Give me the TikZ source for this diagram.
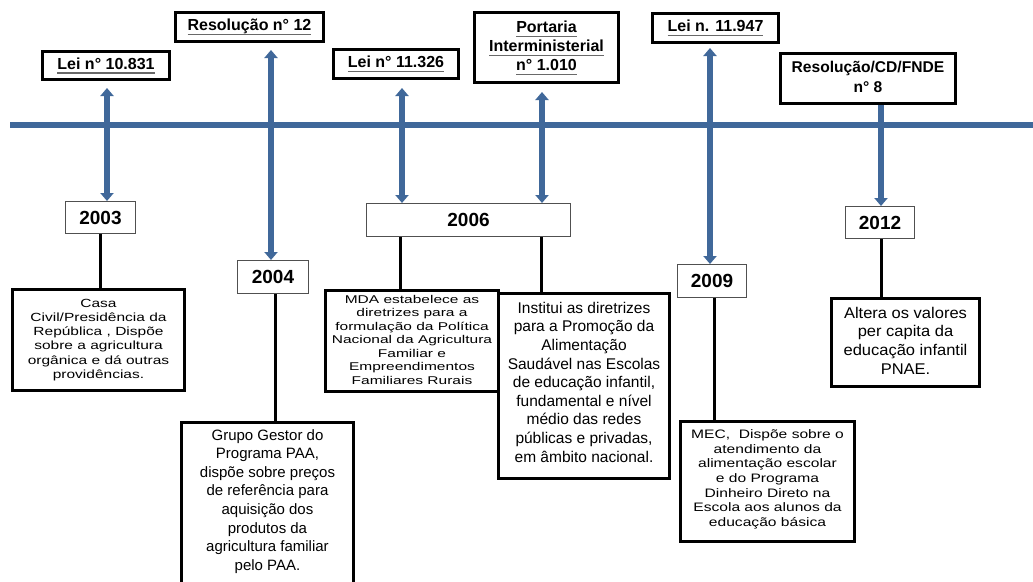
\documentclass[tikz,border=0pt]{standalone}
\usepackage{fontspec}
\setmainfont{Liberation Sans}
\usepackage{graphicx}
\usetikzlibrary{arrows.meta,calc}

\definecolor{tlblue}{RGB}{64,104,154}
\definecolor{ulgray}{RGB}{105,105,105}
\definecolor{yrgray}{RGB}{80,80,80}

% gray underline, set a little below the baseline
\newcommand{\undl}[1]{\leavevmode\setbox0=\hbox{#1}\rlap{\textcolor{ulgray}{\rule[-4.5pt]{\wd0}{1.2pt}}}\box0}
% centred block of lines: size, skip, vertical scale, raise, lines
\newcommand{\desc}[5]{\raisebox{#4}[\height][\depth]{\scalebox{1}[#3]{\fontsize{#1}{#2}\selectfont\begin{tabular}{@{}c@{}}#5\end{tabular}}}}

\tikzset{
  lawbox/.style={draw=black, line width=3pt, fill=white, inner sep=0pt, align=center,
                 font=\bfseries\fontsize{16}{19}\selectfont},
  yearbox/.style={draw=yrgray, line width=1.2pt, fill=white, inner sep=0pt,
                  font=\bfseries\fontsize{19}{22}\selectfont},
  descbox/.style={draw=black, line width=3pt, fill=white, inner sep=0pt},
  axisline/.style={tlblue, line width=6pt},
  tlarrow/.style={tlblue, line width=5.5pt, >={Triangle[width=13pt,length=8pt]}},
  stem/.style={black, line width=3pt},
}

\begin{document}
\begin{tikzpicture}[x=1pt,y=-1pt]
\useasboundingbox (0,0) rectangle (1033,581);
\fill[white] (0,0) rectangle (1033,581);

% time axis
\draw[axisline] (10,125) -- (1033,125);

% legal acts above the axis
\node[lawbox, minimum width=127pt, minimum height=28pt] (lei1) at (106,65.5) {\undl{Lei n° 10.831}};
\node[lawbox, minimum width=148pt, minimum height=29pt] (res12) at (249.5,27) {\undl{Resolução n° 12}};
\node[lawbox, minimum width=125pt, minimum height=29pt] (lei2) at (396,64) {\undl{Lei n° 11.326}};
\node[lawbox, minimum width=144pt, minimum height=70pt] (port) at (546.5,47.5)
  {\begin{tabular}{@{}c@{}}\undl{Portaria}\\\undl{Interministerial}\\\undl{n° 1.010}\end{tabular}};
\node[lawbox, minimum width=126pt, minimum height=29pt] (lei3) at (715.5,28) {\undl{Lei n. 11.947}};
\node[lawbox, minimum width=175pt, minimum height=50pt, font=\bfseries\fontsize{15.6}{19.5}\selectfont] (fnde) at (868,78.5)
  {\begin{tabular}{@{}c@{}}Resolução/CD/FNDE\\n° 8\end{tabular}};

% years
\node[yearbox, minimum width=69.8pt, minimum height=31.8pt] (y2003) at (100.5,217.5) {2003};
\node[yearbox, minimum width=70.8pt, minimum height=32.8pt] (y2004) at (273,277) {2004};
\node[yearbox, minimum width=203.8pt, minimum height=32.8pt] (y2006) at (468.5,220) {2006};
\node[yearbox, minimum width=68.8pt, minimum height=32.8pt] (y2009) at (712,281) {2009};
\node[yearbox, minimum width=68.8pt, minimum height=31.8pt] (y2012) at (880,222.5) {2012};

% descriptions
\node[descbox, minimum width=172pt, minimum height=101pt] (d2003) at (98.5,340)
  {\desc{15.5}{18.6}{0.763}{0pt}{Casa\\Civil/Presidência da\\República , Dispõe\\sobre a agricultura\\orgânica e dá outras\\providências.}};
\node[descbox, minimum width=172pt, minimum height=176pt] (d2004) at (267.5,510.5)
  {\desc{15}{18.6}{1}{9pt}{Grupo Gestor do\\Programa PAA,\\dispõe sobre preços\\de referência para\\aquisição dos\\produtos da\\agricultura familiar\\pelo PAA.}};
\node[descbox, minimum width=173pt, minimum height=101pt] (mda) at (412,341)
  {\desc{15.5}{18.6}{0.726}{0pt}{MDA estabelece as\\diretrizes para a\\formulação da Política\\Nacional da Agricultura\\Familiar e\\Empreendimentos\\Familiares Rurais}};
\node[descbox, minimum width=171pt, minimum height=185pt] (inst) at (584,386)
  {\desc{15.5}{18.6}{1}{2pt}{Institui as diretrizes\\para a Promoção da\\Alimentação\\Saudável nas Escolas\\de educação infantil,\\fundamental e nível\\médio das redes\\públicas e privadas,\\em âmbito nacional.}};
\node[descbox, minimum width=174pt, minimum height=120pt] (mec) at (767.5,481.5)
  {\desc{15.6}{18.7}{0.786}{2pt}{MEC,~ Dispõe sobre o\\atendimento da\\alimentação escolar\\e do Programa\\Dinheiro Direto na\\Escola aos alunos da\\educação básica}};
\node[descbox, minimum width=148pt, minimum height=88pt] (alt) at (905.5,342.5)
  {\desc{16.5}{19.8}{0.94}{0pt}{Altera os valores\\per capita da\\educação infantil\\PNAE.}};

% arrows between acts and years
\draw[tlarrow,<->] ($(lei1.south)+(1,7)$) -- ($(lei1.south |- y2003.north)+(1,0)$);
\draw[tlarrow,<->] ($(res12.south)+(21.5,7)$) -- ($(res12.south |- y2004.north)+(21.5,0)$);
\draw[tlarrow,<->] ($(lei2.south)+(6,8)$) -- ($(lei2.south |- y2006.north)+(6,0)$);
\draw[tlarrow,<->] ($(port.south)+(-4.5,8)$) -- ($(port.south |- y2006.north)+(-4.5,0)$);
\draw[tlarrow,<->] ($(lei3.south)+(-5.5,4)$) -- ($(lei3.south |- y2009.north)+(-5.5,0)$);
\draw[tlarrow,->] ($(fnde.south)+(13,0)$) -- ($(fnde.south |- y2012.north)+(13,0)$);

% stems from years to descriptions
\draw[stem] (y2003.south) -- (y2003.south |- d2003.north);
\draw[stem] ($(y2004.south)+(2,0)$) -- ($(y2004.south |- d2004.north)+(2,0)$);
\draw[stem] ($(y2006.south west)+(34,0)$) -- ($(y2006.south west |- mda.north)+(34,0)$);
\draw[stem] ($(y2006.south east)+(-30,0)$) -- ($(y2006.south east |- inst.north)+(-30,0)$);
\draw[stem] ($(y2009.south)+(2,0)$) -- ($(y2009.south |- mec.north)+(2,0)$);
\draw[stem] ($(y2012.south)+(1,0)$) -- ($(y2012.south |- alt.north)+(1,0)$);
\end{tikzpicture}
\end{document}
